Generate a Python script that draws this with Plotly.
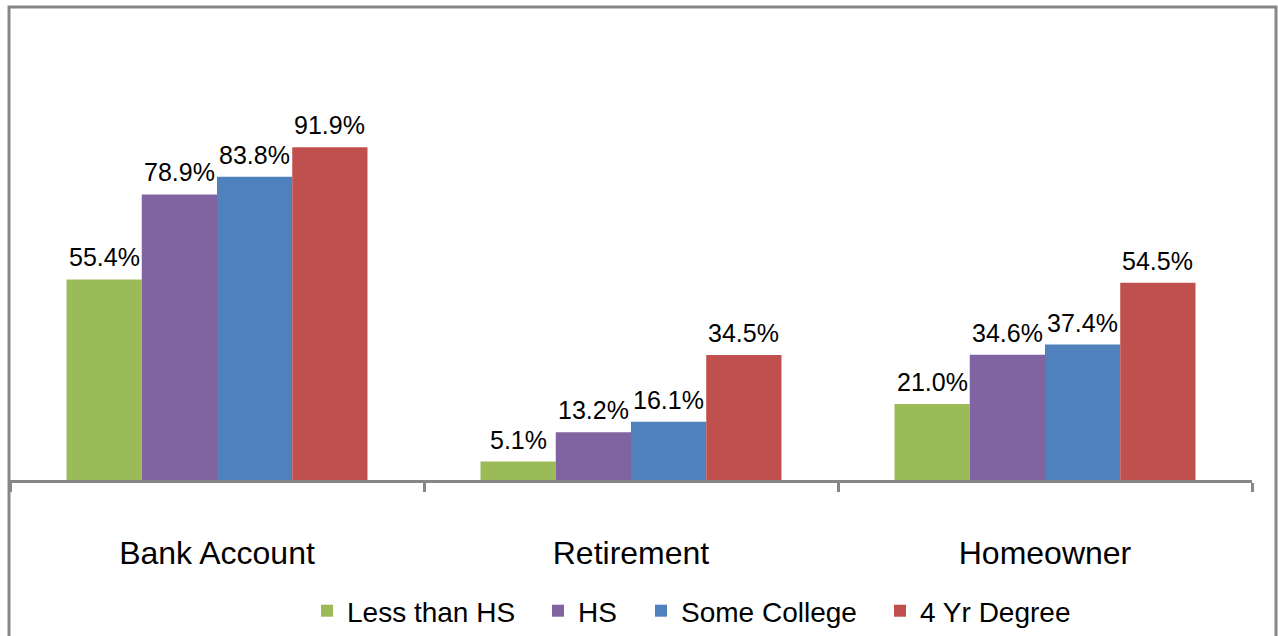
import plotly.graph_objects as go

# Share of households holding each asset, by education level (%)
categories = ["Bank Account", "Retirement", "Homeowner"]
less_than_hs = [55.4, 5.1, 21.0]
hs = [78.9, 13.2, 34.6]
some_college = [83.8, 16.1, 37.4]
four_yr_degree = [91.9, 34.5, 54.5]

series_names = ["Less than HS", "HS", "Some College", "4 Yr Degree"]
series_values = [less_than_hs, hs, some_college, four_yr_degree]
colors = ["#9BBB59", "#8064A2", "#4F81BD", "#C0504D"]

FONT = "Liberation Sans, Arial, sans-serif"
BARGAP = 0.273

# Plot-area geometry (pixels) used for positioning legends and the frame
W, H = 1278, 636
L, R, T, B = 10, 26, 118, 156
plot_w = W - L - R
plot_h = H - T - B

def px_x(px):
    return (px - L) / plot_w

def px_y(py):
    return (H - B - py) / plot_h

legend_ids = ["legend", "legend2", "legend3", "legend4"]
legend_px = [307, 538, 641, 880]

n_series = len(series_names)
bar_px = plot_w / len(categories) * (1 - BARGAP) / n_series

fig = go.Figure()
annotations = []
for i, (name, vals, col, lid) in enumerate(zip(series_names, series_values, colors, legend_ids)):
    fig.add_trace(go.Bar(
        x=categories, y=vals, name=name,
        marker=dict(color=col, line=dict(width=0)),
        legend=lid,
    ))
    # value label above each bar, centred on the bar within its group
    for cat, v in zip(categories, vals):
        annotations.append(dict(
            x=cat, y=v, xref="x", yref="y",
            text=f"{v:.1f}%", showarrow=False,
            xshift=(i - (n_series - 1) / 2) * bar_px,
            yanchor="bottom", yshift=6,
            font=dict(family=FONT, size=25, color="#000000"),
        ))

layout_legends = {}
for lid, lx in zip(legend_ids, legend_px):
    layout_legends[lid] = dict(
        x=px_x(lx), xanchor="left",
        y=px_y(611), yanchor="middle",
        orientation="h",
        font=dict(family=FONT, size=28, color="#000000"),
        bgcolor="rgba(0,0,0,0)", borderwidth=0,
    )

fig.update_layout(
    width=W, height=H,
    margin=dict(l=L, r=R, t=T, b=B, autoexpand=False),
    paper_bgcolor="white", plot_bgcolor="white",
    barmode="group", bargap=BARGAP, bargroupgap=0,
    showlegend=True,
    xaxis=dict(
        type="category",
        showline=True, linecolor="#868686", linewidth=3,
        ticks="outside", tickson="boundaries", ticklen=9,
        tickcolor="#868686", tickwidth=3,
        tickfont=dict(family=FONT, size=32, color="#000000"),
        ticklabelstandoff=43,
        showgrid=False, zeroline=False, automargin=False,
    ),
    yaxis=dict(
        range=[0, 100], visible=False, showgrid=False, zeroline=False,
    ),
    annotations=annotations,
    shapes=[dict(
        type="rect", xref="paper", yref="paper",
        x0=px_x(9), x1=px_x(1276), y0=px_y(660), y1=px_y(7),
        line=dict(color="#878787", width=3), fillcolor="rgba(0,0,0,0)",
        layer="above",
    )],
    **layout_legends,
)

fig.write_html("out.html")
